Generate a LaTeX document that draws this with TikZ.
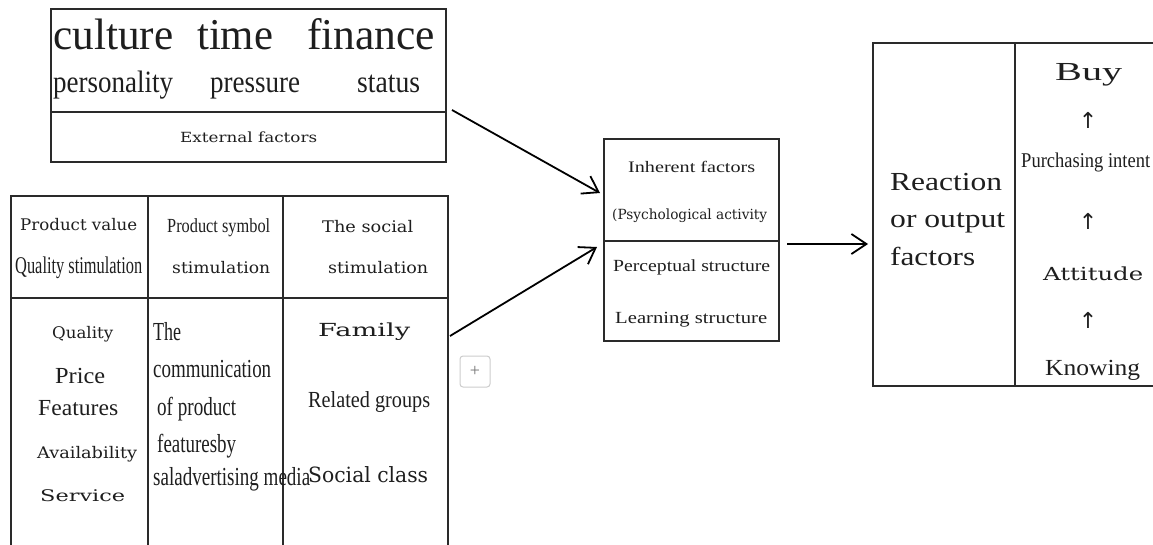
\documentclass[tikz,border=0pt]{standalone}
\usepackage{fontspec}
\usepackage{graphicx}
\setmainfont{Liberation Serif}
\newfontfamily\wide{DejaVu Serif}
\newfontfamily\arrfont{DejaVu Sans}
\usetikzlibrary{arrows.meta}
\newcommand\fitw[3]{\resizebox{#1pt}{\height}{\fontsize{#2pt}{#2pt}\selectfont #3}}
\definecolor{ink}{HTML}{1E1E1E}
\definecolor{frame}{HTML}{2A2A2A}
\tikzset{
  box/.style={draw=frame, line width=1.5pt, inner sep=0pt, fill=none},
  rule/.style={draw=frame, line width=1.5pt},
  txt/.style={inner sep=0pt, anchor=base west, text=ink},
  upar/.style={inner sep=0pt, anchor=center, text=ink, font=\arrfont\fontsize{22pt}{22pt}\selectfont},
  flow/.style={draw=black, line width=1.8pt, -{Straight Barb[length=15pt,width=20pt,line width=1.8pt]}},
  plusbtn/.style={draw=black!20, rounded corners=3pt, line width=1pt, minimum width=30pt, minimum height=31pt, inner sep=0pt, text=black!55}
}
\begin{document}
\begin{tikzpicture}[x=1pt,y=-1pt]
\useasboundingbox (0,0) rectangle (1153,544);
\clip (0,0) rectangle (1153,544);
% boxes
\node[box, minimum width=395pt, minimum height=153pt] (ext) at (248.5,85.5) {};
\draw[rule] (ext.west |- 0,112) -- (ext.east |- 0,112);
\node[box, minimum width=437pt, minimum height=374pt] (stim) at (229.5,383) {};
\draw[rule] (stim.west |- 0,298) -- (stim.east |- 0,298);
\draw[rule] (148,0 |- stim.north) -- (148,0 |- stim.south);
\draw[rule] (283,0 |- stim.north) -- (283,0 |- stim.south);
\node[box, minimum width=175pt, minimum height=202pt] (inh) at (691.5,240) {};
\draw[rule] (inh.west |- 0,241) -- (inh.east |- 0,241);
\node[box, minimum width=310pt, minimum height=343pt] (react) at (1028,214.5) {};
\draw[rule] (1015,0 |- react.north) -- (1015,0 |- react.south);
% top box texts
\node[txt] (w1) at (53,49) {\fitw{120}{44}{culture}};
\node[txt] (w2) at (197,49) {\fitw{76}{44}{time}};
\node[txt] (w3) at (307,49) {\fitw{128}{44}{finance}};
\node[txt] (w4) at (53,92) {\fitw{120}{31}{personality}};
\node[txt] (w5) at (210,92) {\fitw{90}{31}{pressure}};
\node[txt] (w6) at (357,92) {\fitw{63}{31}{status}};
\node[txt] (w7) at (180,142) {\fitw{137}{14}{\wide External factors}};
% stimulation table header
\node[txt] (h1) at (20,230) {\fitw{117}{16}{\wide Product value}};
\node[txt] (h2) at (15,273) {\fitw{127}{24}{Quality stimulation}};
\node[txt] (h3) at (167,232) {\fitw{103}{20}{Product symbol}};
\node[txt] (h4) at (172,273) {\fitw{98}{16}{\wide stimulation}};
\node[txt] (h5) at (322,232) {\fitw{91}{16}{\wide The social}};
\node[txt] (h6) at (328,273) {\fitw{100}{16}{\wide stimulation}};
% column 1
\node[txt] (c1a) at (52,338) {\fitw{61}{16}{\wide Quality}};
\node[txt] (c1b) at (55,383) {\fitw{50}{23}{Price}};
\node[txt] (c1c) at (38,415) {\fitw{80}{23}{Features}};
\node[txt] (c1d) at (37,458) {\fitw{100}{16}{\wide Availability}};
\node[txt] (c1e) at (40,501) {\fitw{85}{16}{\wide Service}};
% column 2
\node[txt] (c2a) at (153,340) {\fitw{28}{26}{The}};
\node[txt] (c2b) at (153,377) {\fitw{118}{26}{communication}};
\node[txt] (c2c) at (157,415) {\fitw{79}{26}{of product}};
\node[txt] (c2d) at (157,452) {\fitw{79}{26}{featuresby}};
\node[txt] (c2e) at (153,485) {\fitw{157}{26}{saladvertising media}};
% column 3
\node[txt] (c3a) at (318,336) {\fitw{92}{18}{\wide Family}};
\node[txt] (c3b) at (308,407) {\fitw{122}{23}{Related groups}};
\node[txt] (c3c) at (308,482) {\fitw{120}{21}{\wide Social class}};
% inherent box
\node[txt] (i1) at (628,172) {\fitw{127}{16}{Inherent factors}};
\node[txt] (i2) at (612,219) {\fitw{155}{14}{\wide (Psychological activity}};
\node[txt] (i3) at (613,271) {\fitw{157}{17}{Perceptual structure}};
\node[txt] (i4) at (615,323) {\fitw{152}{17}{Learning structure}};
% reaction box
\node[txt] (r1) at (890,190) {\fitw{112}{26}{Reaction}};
\node[txt] (r2) at (890,227) {\fitw{115}{26}{or output}};
\node[txt] (r3) at (890,265) {\fitw{85}{26}{factors}};
\node[txt] (s1) at (1055,80) {\fitw{67}{26}{Buy}};
\node[upar] (u1) at (1088,120) {↑};
\node[txt] (s2) at (1021,167) {\fitw{129}{21}{Purchasing intent}};
\node[upar] (u2) at (1088,221) {↑};
\node[txt] (s3) at (1043,280) {\fitw{100}{18}{\wide Attitude}};
\node[upar] (u3) at (1088,320) {↑};
\node[txt] (s4) at (1045,375) {\fitw{95}{23}{Knowing}};
% plus button
\node[plusbtn] (plus) at (475,371.5) {\fontsize{18pt}{18pt}\selectfont +};
% connectors
\coordinate (a1s) at (452,110);
\coordinate (a1e) at (600,193);
\coordinate (a2s) at (450,336);
\coordinate (a2e) at (597,247);
\coordinate (a3s) at (787,244);
\coordinate (a3e) at (868,244);
\draw[flow] (a1s) -- (a1e);
\draw[flow] (a2s) -- (a2e);
\draw[flow] (a3s) -- (a3e);
\end{tikzpicture}
\end{document}
